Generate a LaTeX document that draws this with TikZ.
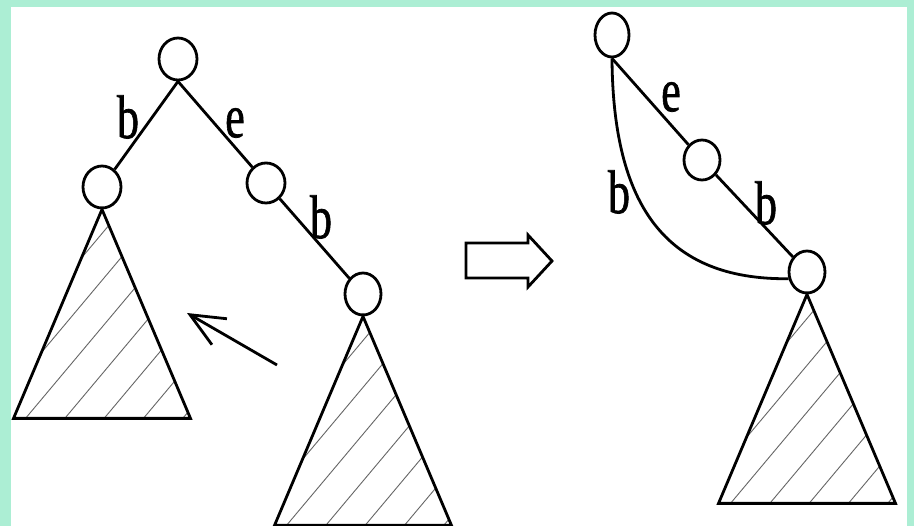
\documentclass[tikz,border=0pt]{standalone}
\usepackage{fontspec}
\setmainfont{Liberation Serif}
\newfontfamily\labelfont[FakeBold=1.2]{Liberation Serif}
\usetikzlibrary{shapes.geometric,arrows.meta}

\definecolor{frame}{RGB}{172,238,212}

\tikzset{
  state/.style={draw, ellipse, line width=2.8pt, inner sep=0pt, fill=white},
  edge/.style={line width=2.8pt},
  hatch/.style={line width=0.9pt, black!60},
  lab/.style={inner sep=0pt, font=\labelfont\fontsize{44}{44}\selectfont}
}

% striped subtree hanging below a given anchor
\newcommand{\hatchedcone}[1]{%
  \begin{scope}[shift={(#1)}]
    \begin{scope}
      \clip (0,0) -- (-88.5,209) -- (88.5,209) -- cycle;
      \foreach \k in {-6,...,4}
        \draw[hatch] (-76.5+\k*39.3,209) -- ++(250,-298);
    \end{scope}
    \draw[edge, line join=miter] (0,0) -- (-88.5,209) -- (88.5,209) -- cycle;
  \end{scope}}

\newcommand{\tallglyph}[1]{\scalebox{1}[1.4]{#1}}

\begin{document}
\begin{tikzpicture}[x=1pt, y=-1pt]
  % frame
  \fill[frame] (0,0) rectangle (914,526);
  \fill[white] (11,7) rectangle (907,526);
  \useasboundingbox (0,0) rectangle (914,526);

  % left tree
  \node[state, minimum width=38pt, minimum height=42pt] (A) at (178,59) {};
  \node[state, minimum width=38pt, minimum height=42pt] (B) at (102,187) {};
  \node[state, minimum width=38pt, minimum height=40pt] (C) at (266,183) {};
  \node[state, minimum width=36pt, minimum height=42pt] (D) at (363,294) {};

  \draw[edge] (A.south) -- (B);
  \draw[edge] (A.south) -- (C);
  \draw[edge] (C) -- (D);

  \node[lab] (lb1) at (128,117) {\tallglyph{b}};
  \node[lab] (le1) at (235,123) {\tallglyph{e}};
  \node[lab] (lb2) at (321,217) {\tallglyph{b}};

  \hatchedcone{B.south}
  \hatchedcone{D.south}

  % pointer between the two subtrees
  \coordinate (ptail) at (277,365);
  \coordinate (ptip) at (187,313);
  \draw[edge, -{Straight Barb[length=34pt, width=30pt]}] (ptail) -- (ptip);

  % transformation arrow
  \draw[edge, line join=miter] (466,243) -- (528,243) -- (528,235) -- (552,261)
        -- (528,287) -- (528,278) -- (466,278) -- cycle;

  % right tree
  \node[state, minimum width=34pt, minimum height=44pt] (T) at (612,35) {};
  \node[state, minimum width=36pt, minimum height=40pt] (M) at (702,160) {};
  \node[state, minimum width=36pt, minimum height=42pt] (R) at (807,272) {};

  \draw[edge] (T.south) -- (M);
  \draw[edge] (M) -- (R);
  \draw[edge] (T.south) .. controls (613,205) and (665,280) .. (R.200);

  \node[lab] (le2) at (671,97) {\tallglyph{e}};
  \node[lab] (lb3) at (766,203) {\tallglyph{b}};
  \node[lab] (lb4) at (619,192) {\tallglyph{b}};

  \hatchedcone{R.south}
\end{tikzpicture}
\end{document}
